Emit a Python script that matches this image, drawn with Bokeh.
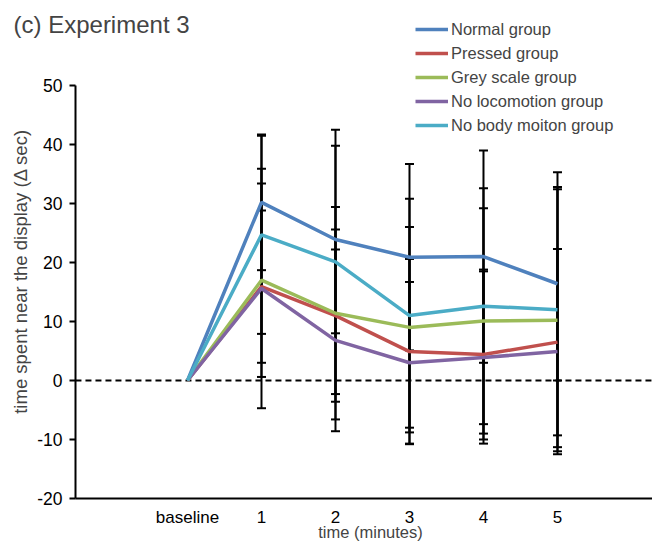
import math
from bokeh.plotting import figure
from bokeh.models import ColumnDataSource, Whisker, TeeHead, FixedTicker, Label, Legend, LegendItem
from bokeh.embed import file_html
from bokeh.resources import INLINE

FONT = "Liberation Sans"

x_pos = [0, 1, 2, 3, 4, 5]
x_labels = ["baseline", "1", "2", "3", "4", "5"]
y_ticks = [-20, -10, 0, 10, 20, 30, 40, 50]
y_tick_labels = ["-20", "-10", "0", "10", "20", "30", "40", "50"]

groups = ["Normal group", "Pressed group", "Grey scale group", "No locomotion group", "No body moiton group"]
colors = ["#4F81BD", "#C0504D", "#9BBB59", "#8064A2", "#4BACC6"]

normal_mean = [0, 30.2, 23.9, 20.9, 21.0, 16.4]
normal_err = [0, 11.5, 15.9, 15.8, 18.0, 16.4]
pressed_mean = [0, 15.9, 11.0, 4.9, 4.4, 6.5]
pressed_err = [0, 12.9, 14.6, 15.7, 14.4, 15.8]
grey_mean = [0, 17.0, 11.4, 9.0, 10.1, 10.2]
grey_err = [0, 16.4, 18.0, 17.0, 19.1, 22.2]
noloco_mean = [0, 15.6, 6.8, 3.0, 3.9, 4.9]
noloco_err = [0, 20.3, 15.4, 13.7, 14.6, 17.4]
nobody_mean = [0, 24.7, 20.1, 11.0, 12.6, 12.0]
nobody_err = [0, 16.8, 22.4, 19.8, 20.0, 23.3]

means = [normal_mean, pressed_mean, grey_mean, noloco_mean, nobody_mean]
errs = [normal_err, pressed_err, grey_err, noloco_err, nobody_err]

X_START, X_END = -2.527, 6.284
AXIS_X = -1.514
Y_AXIS_MIN, Y_AXIS_MAX = -20, 50
Y_START, Y_END = -27.80, 64.41

p = figure(width=652, height=544, x_range=(X_START, X_END), y_range=(Y_START, Y_END),
           output_backend="svg", toolbar_location=None,
           min_border_left=0, min_border_right=0, min_border_top=0, min_border_bottom=0)
p.title.visible = False
p.outline_line_color = None
p.xgrid.grid_line_color = None
p.ygrid.grid_line_color = None

# y axis drawn inside the frame at a fixed location
p.yaxis.fixed_location = AXIS_X
p.yaxis.bounds = (Y_AXIS_MIN, Y_AXIS_MAX)
p.yaxis.ticker = FixedTicker(ticks=y_ticks)
p.yaxis.major_label_overrides = {t: l for t, l in zip(y_ticks, y_tick_labels)}
p.yaxis.major_tick_out = 6
p.yaxis.major_tick_in = 0
p.yaxis.minor_tick_line_color = None
p.yaxis.axis_line_width = 2
p.yaxis.major_tick_line_width = 2
p.yaxis.major_label_text_font = FONT
p.yaxis.major_label_text_font_size = "17.5px"
p.yaxis.major_label_text_color = "black"
p.yaxis.major_label_standoff = 7

# x axis drawn inside the frame at y = -20
p.xaxis.fixed_location = Y_AXIS_MIN
p.xaxis.bounds = (AXIS_X, X_END)
p.xaxis.ticker = FixedTicker(ticks=x_pos)
p.xaxis.major_label_overrides = {x: l for x, l in zip(x_pos, x_labels)}
p.xaxis.major_tick_line_color = None
p.xaxis.minor_tick_line_color = None
p.xaxis.axis_line_width = 2
p.xaxis.major_label_text_font = FONT
p.xaxis.major_label_text_font_size = "17px"
p.xaxis.major_label_text_color = "black"
p.xaxis.major_label_standoff = 4

# axis titles
p.add_layout(Label(x=2.473, y=-25.75, text="time (minutes)",
                   text_align="center", text_baseline="middle",
                   text_font=FONT, text_font_size="16.5px"))
p.add_layout(Label(x=-2.257, y=18.5, text="time spent near the display (Δ sec)", angle=math.pi / 2,
                   text_align="center", text_baseline="middle",
                   text_font=FONT, text_font_size="18.5px"))

# zero dashed line
p.segment(x0=[AXIS_X], y0=[0], x1=[X_END], y1=[0], line_color="black", line_width=2, line_dash="6 4")

# error bars
for m, e in zip(means, errs):
    xs = x_pos[1:]
    up = [a + b for a, b in zip(m[1:], e[1:])]
    lo = [a - b for a, b in zip(m[1:], e[1:])]
    src = ColumnDataSource(dict(x=xs, upper=up, lower=lo))
    w = Whisker(source=src, base="x", upper="upper", lower="lower", dimension="height",
                line_color="black", line_width=2,
                upper_head=TeeHead(size=9, line_color="black", line_width=2),
                lower_head=TeeHead(size=9, line_color="black", line_width=2))
    p.add_layout(w)

renderers = []
for name, m, c in zip(groups, means, colors):
    r = p.line(x_pos, m, line_color=c, line_width=3.5)
    renderers.append(r)

legend = Legend(items=[LegendItem(label=g, renderers=[r]) for g, r in zip(groups, renderers)],
                location=(415, 407), orientation="vertical")
legend.label_text_font = FONT
legend.label_text_font_size = "16.5px"
legend.glyph_width = 33
legend.glyph_height = 24
legend.label_height = 24
legend.spacing = 0
legend.padding = 0
legend.margin = 0
legend.label_standoff = 3
legend.border_line_color = None
legend.background_fill_alpha = 0
p.add_layout(legend)

p.add_layout(Label(x=-2.351, y=62.7, text="(c) Experiment 3", text_align="left", text_baseline="top",
                   text_font=FONT, text_font_size="24px"))

open("out.html", "w").write(file_html(p, INLINE))
